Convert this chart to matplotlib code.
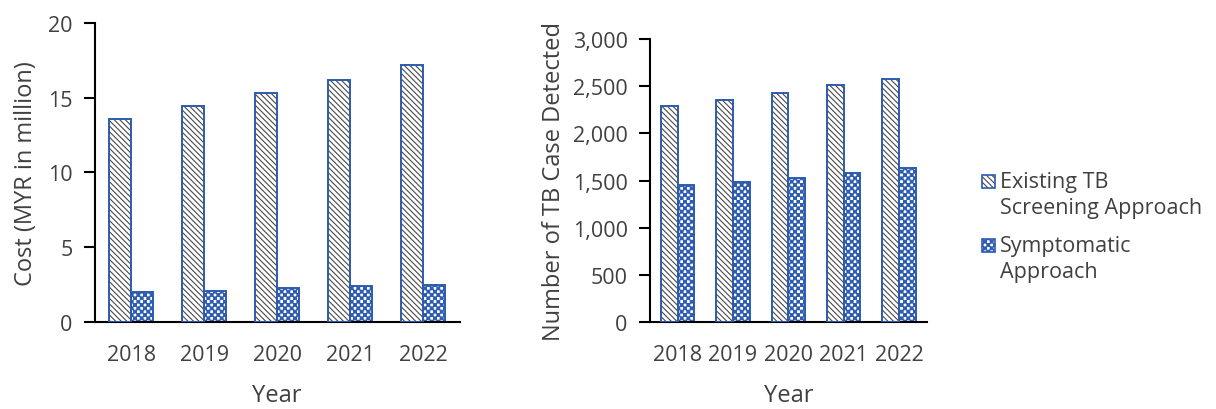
import matplotlib
matplotlib.use('Agg')
import matplotlib.pyplot as plt
import matplotlib.hatch as mhatch
import numpy as np
from matplotlib.path import Path
from matplotlib.patches import Rectangle
from matplotlib.ticker import FuncFormatter

years = ['2018', '2019', '2020', '2021', '2022']
cost_existing = [13.6, 14.45, 15.3, 16.2, 17.15]
cost_symptomatic = [2.0, 2.1, 2.25, 2.4, 2.5]
cases_existing = [2290, 2360, 2430, 2510, 2580]
cases_symptomatic = [1450, 1490, 1530, 1580, 1630]
series_names = ['Existing TB\nScreening Approach', 'Symptomatic\nApproach']


# checkerboard fill, used in place of the star hatch ('*')
class CheckerHatch(mhatch.HatchPatternBase):
    def __init__(self, hatch, density):
        n = hatch.count('*') * density
        self.n = n - (n % 2)
        self.cells = [(i, j) for i in range(self.n) for j in range(self.n) if (i + j) % 2 == 0]
        self.num_vertices = len(self.cells) * 5 if self.n else 0

    def set_vertices_and_codes(self, vertices, codes):
        s = 1.0 / self.n
        g = s * 0.08
        for k, (i, j) in enumerate(self.cells):
            x0, y0 = i * s + g, j * s + g
            x1, y1 = (i + 1) * s - g, (j + 1) * s - g
            vertices[k * 5:(k + 1) * 5] = [(x0, y0), (x1, y0), (x1, y1), (x0, y1), (x0, y0)]
            codes[k * 5:(k + 1) * 5] = [Path.MOVETO, Path.LINETO, Path.LINETO,
                                        Path.LINETO, Path.CLOSEPOLY]


mhatch._hatch_types = [t for t in mhatch._hatch_types if t is not mhatch.Stars] + [CheckerHatch]

plt.rcParams['font.family'] = ['Open Sans', 'DejaVu Sans']
plt.rcParams['hatch.linewidth'] = 0.8

text_col = '#404040'
blue = '#2C5BB0'
grey = '#4a4a4a'
diag = '\\\\\\\\\\\\'
checker = '*****'
w = 0.3
fs = 15.5
fs_title = 17

fig = plt.figure(figsize=(12.16, 4.10), dpi=100)
ax1 = fig.add_axes([0.078, 0.212, 0.300, 0.730])
ax2 = fig.add_axes([0.5345, 0.212, 0.2275, 0.690])

x = np.arange(len(years))


def draw_bars(ax, existing, symptomatic):
    # hatch colour follows edgecolor, so the hatched fill and blue outline are drawn separately
    ax.bar(x - w / 2, existing, w, facecolor='white', edgecolor=grey,
           hatch=diag, linewidth=0, zorder=2)
    ax.bar(x - w / 2, existing, w, facecolor='none', edgecolor=blue,
           linewidth=1.4, zorder=3)
    ax.bar(x + w / 2, symptomatic, w, facecolor='white', edgecolor=blue,
           hatch=checker, linewidth=1.4, zorder=2)
    ax.set_xticks(x)
    ax.set_xticklabels(years)
    ax.set_xlim(-0.5, len(years) - 0.5)
    for side in ['top', 'right']:
        ax.spines[side].set_visible(False)
    for side in ['left', 'bottom']:
        ax.spines[side].set_linewidth(1.5)
        ax.spines[side].set_color('black')
    ax.tick_params(axis='x', length=0, pad=16, labelsize=fs, labelcolor=text_col)
    ax.tick_params(axis='y', length=8, width=1.5, pad=8, labelsize=fs,
                   labelcolor=text_col, direction='out')
    ax.set_xlabel('Year', fontsize=fs_title, color=text_col, labelpad=13)


draw_bars(ax1, cost_existing, cost_symptomatic)
ax1.set_ylim(0, 20)
ax1.set_yticks([0, 5, 10, 15, 20])
ax1.set_ylabel('Cost (MYR in million)', fontsize=fs_title, color=text_col, labelpad=7)

draw_bars(ax2, cases_existing, cases_symptomatic)
ax2.set_ylim(0, 3000)
ax2.set_yticks(np.arange(0, 3001, 500))
ax2.yaxis.set_major_formatter(FuncFormatter(lambda v, p: f'{int(v):,}'))
ax2.set_ylabel('Number of TB Case Detected', fontsize=fs_title, color=text_col, labelpad=5)

# legend: swatch sits beside the first line of each two-line label
W, H = fig.get_size_inches() * fig.dpi
sw = 13
entries = [(series_names[0], 182, [(grey, diag, 0), (blue, None, 1.2)]),
           (series_names[1], 246, [(blue, checker, 1.2)])]
for label, ypix, layers in entries:
    for ec, hatch, lw in layers:
        fig.add_artist(Rectangle((982 / W, 1 - (ypix + sw / 2) / H), sw / W, sw / H,
                                 transform=fig.transFigure,
                                 facecolor='white' if hatch else 'none',
                                 edgecolor=ec, hatch=hatch, linewidth=lw))
    fig.text(1000 / W, 1 - (ypix - 10) / H, label, fontsize=fs, color=text_col,
             va='top', ha='left', linespacing=1.32)

fig.savefig('out.png', dpi=100)
